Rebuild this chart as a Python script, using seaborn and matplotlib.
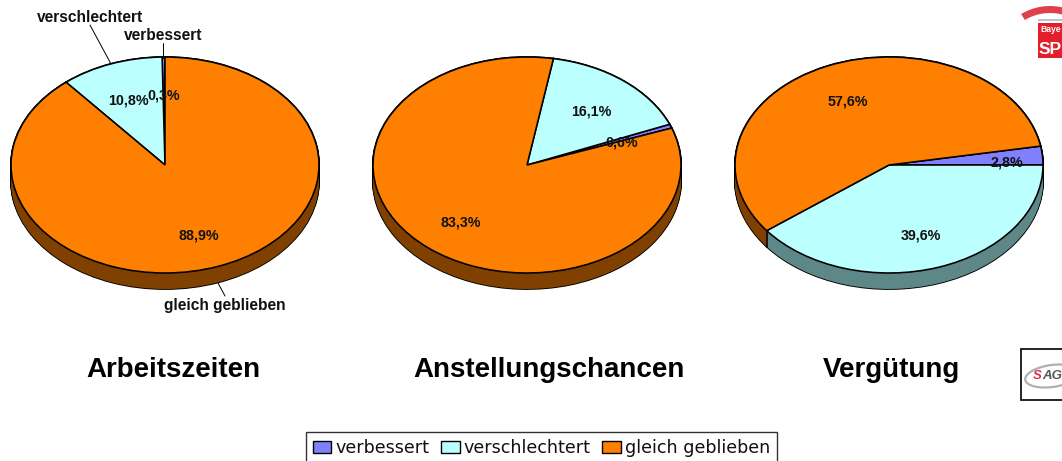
import matplotlib
matplotlib.use("Agg")
import matplotlib.pyplot as plt
from matplotlib.patches import Rectangle, Patch, Ellipse, Wedge
import seaborn as sns
import numpy as np

categories = ["verbessert", "verschlechtert", "gleich geblieben"]
titles = ["Arbeitszeiten", "Anstellungschancen", "Vergütung"]
arbeitszeiten = [0.3, 10.8, 88.9]
anstellungschancen = [0.6, 16.1, 83.3]
verguetung = [2.8, 39.6, 57.6]
series = [arbeitszeiten, anstellungschancen, verguetung]
start_angles = [90, 20, 10.08]
counterclock = [True, True, False]
centers_x = [165, 527, 889]
label_pos = [[(164, 95), (128, 100), (199, 235)],
             [(622, 142), (591, 111), (461, 222)],
             [(1007, 162), (921, 235), (848, 101)]]
title_x = [173, 549, 891]

sns.set_theme(style="white")
plt.rcParams['font.family'] = ['DejaVu Sans']
BOLD = "Liberation Sans"
palette = sns.color_palette(["#8080FF", "#BBFFFF", "#FF8000"])
dark = [tuple(c * 0.5 for c in col) for col in palette]
dark[1] = (0.37, 0.53, 0.53)

W, H = 1062, 461
fig = plt.figure(figsize=(W / 100, H / 100), dpi=100)
fig.patch.set_facecolor("white")
RX, RY, DEPTH, CY = 154.0, 108.0, 16.0, 165.0
depth_units = DEPTH / RY

for vals, sa, cc, cx in zip(series, start_angles, counterclock, centers_x):
    pad = 30
    ax = fig.add_axes([(cx - RX - pad) / W, 1 - (CY + RY + pad) / H,
                       2 * (RX + pad) / W, 2 * (RY + pad) / H])
    for off in np.linspace(depth_units, 0, 17):
        ax.pie(vals, colors=["black"] * 3, startangle=sa, counterclock=cc, center=(0, -off),
               wedgeprops=dict(linewidth=1.3, edgecolor="black"), normalize=True)
    for off in np.linspace(depth_units, 0, 17):
        ax.pie(vals, colors=dark, startangle=sa, counterclock=cc, center=(0, -off),
               wedgeprops=dict(linewidth=0), normalize=True)
    sign = 1 if cc else -1
    for b in np.cumsum(vals):
        ang = np.deg2rad(sa + sign * 3.6 * b)
        if np.sin(ang) < 0:
            ax.plot([np.cos(ang)] * 2, [np.sin(ang), np.sin(ang) - depth_units], color="black", lw=1.1)
    ax.pie(vals, colors=palette, startangle=sa, counterclock=cc,
           wedgeprops=dict(linewidth=1.15, edgecolor="black"), normalize=True)
    ax.set_aspect("auto")
    ax.set_xlim(-(RX + pad) / RX, (RX + pad) / RX)
    ax.set_ylim(-(RY + pad) / RY, (RY + pad) / RY)
    ax.axis("off")

ov = fig.add_axes([0, 0, 1, 1], facecolor="none")
ov.set_xlim(0, W)
ov.set_ylim(H, 0)
ov.axis("off")

for vals, poss in zip(series, label_pos):
    for v, (x, y) in zip(vals, poss):
        ov.text(x, y, f"{v:.1f}%".replace(".", ","), ha="center", va="center", family=BOLD,
                fontsize=10.3, fontweight="bold", color="#111111")

for t, x in zip(titles, title_x):
    ov.text(x, 369.5, t, ha="center", va="center", fontsize=20, fontweight="bold",
            family=BOLD, color="black")

for cat, (x, y) in zip(categories, [(163.5, 35.5), (90, 17.5), (225, 305.5)]):
    ov.text(x, y, cat, ha="center", va="center", fontsize=11.2, fontweight="bold",
            family=BOLD, color="#111111")
ov.plot([90, 111], [25, 64], color="black", lw=0.7)
ov.plot([163, 163], [43, 58], color="black", lw=0.7)
ov.plot([218, 225], [283, 296], color="black", lw=0.7)

handles = [Patch(facecolor=c, edgecolor="black", lw=1) for c in palette]
leg = fig.legend(handles, categories, loc="upper left", bbox_to_anchor=(306 / W, 1 - 432 / H), ncol=3,
                 frameon=True, fancybox=False, edgecolor="#333333", framealpha=1, fontsize=12.6,
                 borderpad=0.4, borderaxespad=0, handlelength=1.05, handleheight=0.65,
                 handletextpad=0.25, columnspacing=0.65, labelspacing=0)
leg.get_frame().set_linewidth(1)
for txt in leg.get_texts():
    txt.set_color("#111111")

# SPD logo
ov.add_patch(Wedge((1050, 62), 56, 239, 285, width=7, color="#E0404A", lw=0))
ov.add_patch(Rectangle((1038, 19), 26, 2, color="#B8C4C8", lw=0))
ov.add_patch(Rectangle((1038, 23), 26, 35, color="#E2202C", lw=0))
ov.text(1040, 29, "Baye", fontsize=6.2, fontweight="bold", family=BOLD, color="white", va="center")
ov.text(1039, 49, "SP", fontsize=12.5, fontweight="bold", family=BOLD, color="white", va="center")

# SAGA logo
ov.add_patch(Rectangle((1020.5, 348.5), 45, 51, facecolor="white", edgecolor="black", lw=1.2))
ov.add_patch(Ellipse((1052, 376), 54, 22, angle=-8, facecolor="none", edgecolor="#B0B0B0", lw=1.6))
ov.text(1032.5, 376, "S", fontsize=9.5, fontweight="bold", style="italic", family=BOLD, color="#E0304A", va="center")
ov.text(1042, 376, "AG", fontsize=9.5, fontweight="bold", style="italic", family=BOLD, color="#555555", va="center")

fig.savefig("out.png", dpi=100, facecolor="white")
